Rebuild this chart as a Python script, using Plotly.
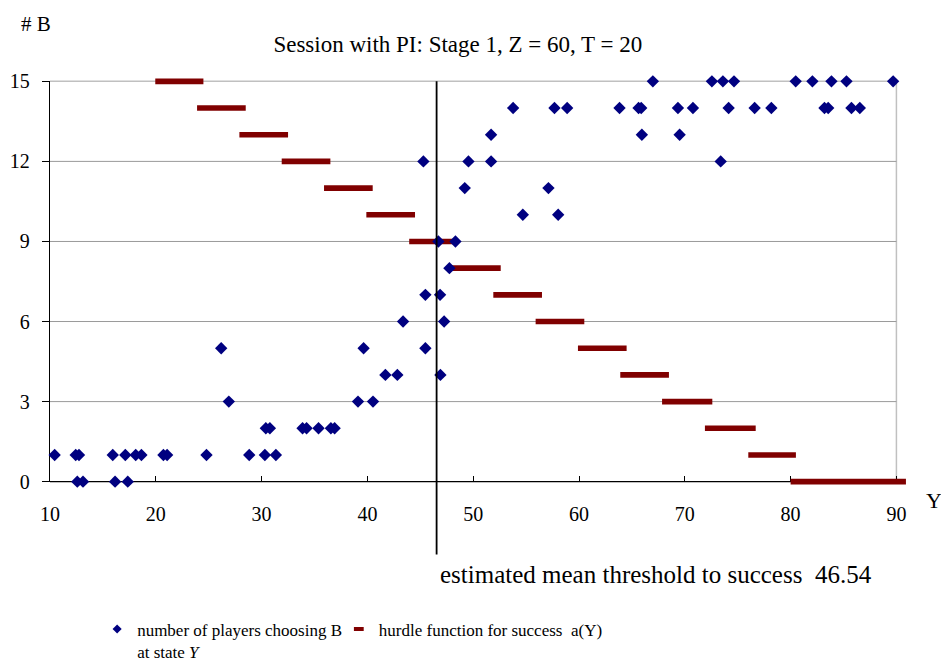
import plotly.graph_objects as go

FONT = "Liberation Serif, Times New Roman, serif"

# ---- data ----
state_Y = [
    12.58, 13.12, 16.15, 17.35,
    10.44, 12.43, 12.74, 15.93, 17.12, 18.10, 18.64, 20.72, 21.07, 24.79, 28.83, 30.31, 31.35,
    30.40, 30.78, 33.87, 34.25, 35.38, 36.55, 36.90,
    26.90, 39.11, 40.53,
    41.70, 42.83, 46.90,
    26.18, 39.64, 45.48,
    43.37, 47.25,
    45.48, 46.87,
    47.75,
    46.71, 48.32,
    54.69, 58.03,
    49.20, 57.11,
    45.29, 49.55, 51.69, 73.39,
    51.69, 65.94, 69.51,
    53.77, 57.68, 58.88, 63.83, 65.63, 65.88, 69.35, 70.77, 74.14, 76.60, 78.18, 83.20, 83.55, 85.75, 86.54,
    66.98, 72.56, 73.60, 74.65, 80.48, 82.06, 83.86, 85.28, 89.69,
]
players_B = [
    0, 0, 0, 0,
    1, 1, 1, 1, 1, 1, 1, 1, 1, 1, 1, 1, 1,
    2, 2, 2, 2, 2, 2, 2,
    3, 3, 3,
    4, 4, 4,
    5, 5, 5,
    6, 6,
    7, 7,
    8,
    9, 9,
    10, 10,
    11, 11,
    12, 12, 12, 12,
    13, 13, 13,
    14, 14, 14, 14, 14, 14, 14, 14, 14, 14, 14, 14, 14, 14, 14,
    15, 15, 15, 15, 15, 15, 15, 15, 15,
]

hurdle_level = [15, 14, 13, 12, 11, 10, 9, 8, 7, 6, 5, 4, 3, 2, 1, 0]
hurdle_start = [19.95, 23.9, 27.9, 31.9, 35.9, 39.9, 43.95, 47.9, 51.9, 55.9, 59.9, 63.9, 67.85, 71.9, 76.0, 80.0]
hurdle_end = [24.5, 28.5, 32.5, 36.5, 40.5, 44.5, 48.6, 52.6, 56.5, 60.5, 64.5, 68.5, 72.6, 76.7, 80.5, 90.9]

mean_threshold = 46.54

x_ticks = [10, 20, 30, 40, 50, 60, 70, 80, 90]
y_ticks = [0, 3, 6, 9, 12, 15]

title_text = "Session with PI: Stage 1, Z = 60, T = 20"
label_B = "number of players choosing B<br>at state <i>Y</i>"
label_hurdle = "hurdle function for success\u00a0 a(Y)"

BLUE = "#000080"
RED = "#800000"

X_RANGE = [10, 91]
Y_RANGE = [0, 15]
# the data marks sit on a hidden twin subplot that is slightly taller, with the
# same data-to-pixel scale, so the bars at levels 0 and 15 are not clipped
PAD = 0.02
span = Y_RANGE[1] - Y_RANGE[0]
Y2_RANGE = [Y_RANGE[0] - PAD / (1 - 2 * PAD) * span, Y_RANGE[1] + PAD / (1 - 2 * PAD) * span]

fig = go.Figure()

# hurdle function: horizontal step segments
fig.add_trace(go.Bar(
    orientation="h", y=hurdle_level,
    x=[e - s for s, e in zip(hurdle_start, hurdle_end)], base=hurdle_start,
    width=0.21, marker=dict(color=RED, line=dict(width=0)),
    xaxis="x2", yaxis="y2",
    cliponaxis=False, showlegend=False, hoverinfo="skip",
))
fig.add_trace(go.Scatter(
    x=state_Y, y=players_B, mode="markers",
    marker=dict(symbol="diamond", size=9.5, color=BLUE, line=dict(width=0)),
    xaxis="x2", yaxis="y2",
    cliponaxis=False, showlegend=False,
))
# legend-only entries
fig.add_trace(go.Scatter(
    x=[None], y=[None], mode="markers", name=label_B, legend="legend",
    marker=dict(symbol="diamond", size=7, color=BLUE),
))
fig.add_trace(go.Scatter(
    x=[None], y=[None], mode="markers", name=label_hurdle, legend="legend2",
    marker=dict(symbol="line-ew", size=7, color=RED, line=dict(color=RED, width=4)),
))

shapes = []
# gridlines
for gy in y_ticks[1:-1]:
    shapes.append(dict(type="line", xref="x", yref="y", x0=10, x1=90, y0=gy, y1=gy,
                       line=dict(color="#9a9a9a", width=1), layer="below"))
shapes.append(dict(type="line", xref="x", yref="y domain", x0=10, x1=90, y0=1, y1=1,
                   line=dict(color="#c0c0c0", width=1.5), layer="below"))
# right border
shapes.append(dict(type="line", xref="x", yref="y domain", x0=90, x1=90, y0=0, y1=1,
                   line=dict(color="#c0c0c0", width=1.5), layer="below"))
# bottom axis line
shapes.append(dict(type="line", xref="x", yref="y domain", x0=10, x1=90, y0=0, y1=0,
                   line=dict(color="black", width=1.3), layer="below"))
# mean threshold line
shapes.append(dict(type="line", xref="x", yref="y domain", x0=mean_threshold, x1=mean_threshold,
                   y0=-0.182, y1=1, line=dict(color="black", width=1.8), layer="above"))

annotations = [
    dict(text="# B", xref="paper", yref="y domain", x=-0.016, y=1.142, showarrow=False,
         xanchor="center", yanchor="middle", font=dict(family=FONT, size=21, color="black")),
    dict(text="Y", xref="paper", yref="y domain", x=1.0315, y=-0.047, showarrow=False,
         xanchor="center", yanchor="middle", font=dict(family=FONT, size=22, color="black")),
    dict(text="estimated mean threshold to success\u00a0 " + f"{mean_threshold:.2f}",
         xref="x", yref="y domain", x=mean_threshold, xshift=1, y=-0.232, showarrow=False,
         xanchor="left", yanchor="middle", font=dict(family=FONT, size=25, color="black")),
]

legend_common = dict(orientation="h", xanchor="left", yanchor="top", valign="top",
                     bgcolor="rgba(0,0,0,0)", borderwidth=0,
                     font=dict(family=FONT, size=17, color="black"))

plot_h = 401 / (1 - 2 * PAD)
fig.update_layout(
    width=949, height=664,
    margin=dict(l=42, r=50, t=73 - PAD * plot_h, b=190 - PAD * plot_h, autoexpand=False),
    paper_bgcolor="white", plot_bgcolor="rgba(0,0,0,0)",
    font=dict(family=FONT, color="black"),
    barmode="overlay",
    title=dict(text=title_text, x=0.474, xref="container", xanchor="center",
               y=1 - 36 / 664, yref="container", yanchor="middle",
               font=dict(family=FONT, size=23, color="black")),
    xaxis=dict(range=X_RANGE, domain=[0, 1], anchor="y", tickvals=x_ticks, ticks="inside",
               ticklen=6, tickwidth=1.3, tickcolor="black", showline=False, showgrid=False,
               zeroline=False, tickfont=dict(family=FONT, size=20, color="black"),
               ticklabelstandoff=18),
    yaxis=dict(range=Y_RANGE, domain=[PAD, 1 - PAD], anchor="x", tickvals=y_ticks,
               ticks="outside", ticklen=7, tickwidth=1.3, tickcolor="black", showline=True,
               linecolor="black", linewidth=1.3, showgrid=False, zeroline=False,
               tickfont=dict(family=FONT, size=20, color="black"), ticklabelstandoff=8),
    xaxis2=dict(range=X_RANGE, domain=[0, 1], anchor="y2", visible=False, showgrid=False,
                zeroline=False),
    yaxis2=dict(range=Y2_RANGE, domain=[0, 1], anchor="x2", visible=False, showgrid=False,
                zeroline=False),
    shapes=shapes,
    annotations=annotations,
    showlegend=True,
    legend=dict(x=0.055, y=-0.2912, **legend_common),
    legend2=dict(x=0.337, y=-0.2912, **legend_common),
)

fig.write_html("out.html")
